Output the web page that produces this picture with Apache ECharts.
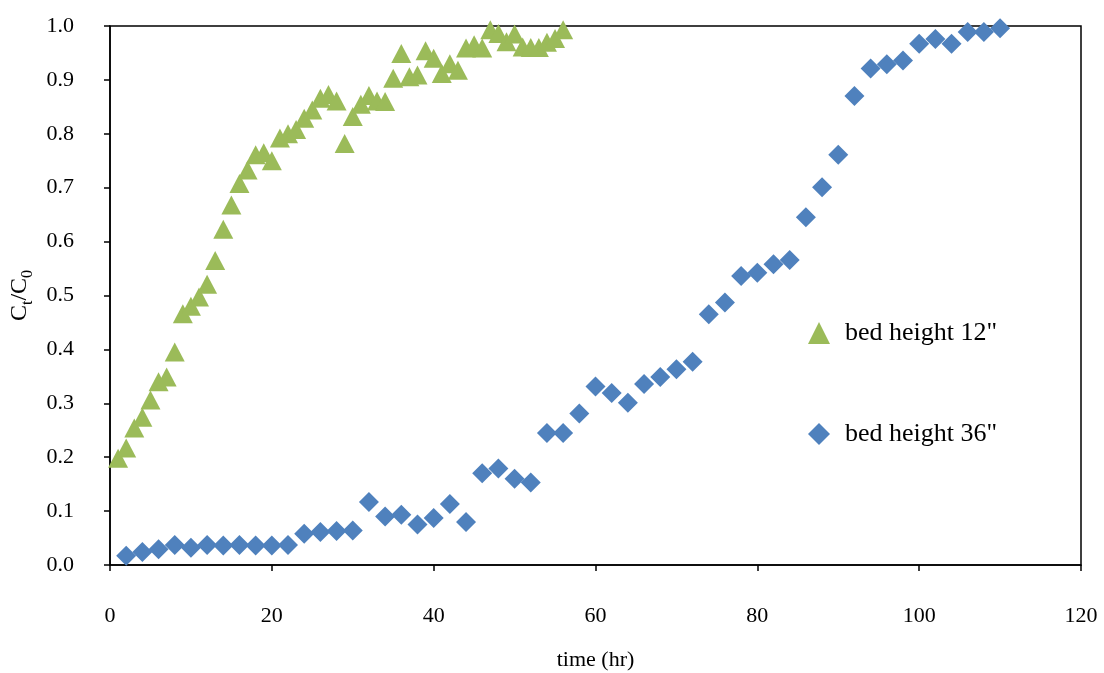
<!DOCTYPE html>
<html>
<head>
<meta charset="utf-8">
<script src="https://cdn.jsdelivr.net/npm/echarts@6/dist/echarts.min.js"></script>
<style>
  html, body { margin: 0; padding: 0; background: #fff; }
  #main { width: 1104px; height: 673px; }
</style>
</head>
<body>
<div id="main"></div>
<script>
// bed height 12"
var time12 = [1, 2, 3, 4, 5, 6, 7, 8, 9, 10, 11, 12, 13, 14, 15, 16, 17, 18, 19, 20,
  21, 22, 23, 24, 25, 26, 27, 28, 29, 30, 31, 32, 33, 34, 35, 36, 37, 38, 39, 40,
  41, 42, 43, 44, 45, 46, 47, 48, 49, 50, 51, 52, 53, 54, 55, 56];
var ratio12 = [0.198, 0.217, 0.254, 0.274, 0.306, 0.340, 0.349, 0.395, 0.466, 0.480,
  0.497, 0.521, 0.565, 0.623, 0.668, 0.708, 0.733, 0.761, 0.765, 0.750,
  0.792, 0.800, 0.808, 0.829, 0.844, 0.866, 0.873, 0.861, 0.782, 0.832,
  0.855, 0.871, 0.861, 0.860, 0.903, 0.949, 0.906, 0.909, 0.954, 0.940,
  0.912, 0.930, 0.918, 0.959, 0.965, 0.959, 0.993, 0.986, 0.971, 0.985,
  0.961, 0.960, 0.960, 0.970, 0.977, 0.993];

// bed height 36"
var time36 = [2, 4, 6, 8, 10, 12, 14, 16, 18, 20, 22, 24, 26, 28, 30, 32, 34, 36, 38, 40,
  42, 44, 46, 48, 50, 52, 54, 56, 58, 60, 62, 64, 66, 68, 70, 72, 74, 76, 78, 80,
  82, 84, 86, 88, 90, 92, 94, 96, 98, 100, 102, 104, 106, 108, 110];
var ratio36 = [0.017, 0.024, 0.029, 0.037, 0.032, 0.037, 0.036, 0.037, 0.036, 0.036,
  0.037, 0.058, 0.061, 0.063, 0.064, 0.117, 0.090, 0.093, 0.075, 0.087,
  0.113, 0.080, 0.170, 0.179, 0.160, 0.153, 0.245, 0.245, 0.281, 0.331,
  0.319, 0.301, 0.336, 0.349, 0.363, 0.377, 0.465, 0.487, 0.536, 0.542,
  0.558, 0.566, 0.645, 0.701, 0.761, 0.870, 0.921, 0.929, 0.936, 0.967,
  0.976, 0.967, 0.989, 0.989, 0.996];

var xTicks = { min: 0, max: 120, step: 20 };
var yTicks = { min: 0, max: 1, step: 0.1 };

function pairs(xs, ys) {
  return xs.map(function (x, i) { return [x, ys[i]]; });
}

var serif = '"Liberation Serif", "Times New Roman", serif';
var chart = echarts.init(document.getElementById('main'));

chart.setOption({
  backgroundColor: '#fff',
  animation: false,
  textStyle: { fontFamily: serif, color: '#000' },
  grid: {
    left: 110, right: 23, top: 26, bottom: 108,
    containLabel: false,
    outerBoundsMode: 'none',
    show: true, borderColor: '#000', borderWidth: 1.5
  },
  legend: {
    orient: 'vertical',
    left: 803, top: 315,
    itemGap: 75,
    itemWidth: 22, itemHeight: 22,
    textStyle: { fontFamily: serif, fontSize: 26, color: '#000', padding: [0, 0, 0, 10] },
    data: ['bed height 12"', 'bed height 36"']
  },
  xAxis: {
    type: 'value',
    min: xTicks.min, max: xTicks.max, interval: xTicks.step,
    name: 'time (hr)',
    nameLocation: 'middle',
    nameGap: 84,
    nameTextStyle: { fontFamily: serif, fontSize: 22, color: '#000' },
    axisLine: { onZero: false, lineStyle: { color: '#000', width: 1.5 } },
    axisTick: { show: true, length: 6, lineStyle: { color: '#000', width: 1.5 } },
    axisLabel: { margin: 40, fontSize: 22, color: '#000', fontFamily: serif },
    splitLine: { show: false }
  },
  yAxis: {
    type: 'value',
    min: yTicks.min, max: yTicks.max, interval: yTicks.step,
    name: '{c|C}{s|t}{c|/C}{s|0}',
    nameLocation: 'middle',
    nameGap: 67,
    nameRotate: 90,
    nameTextStyle: {
      fontFamily: serif, color: '#000',
      rich: {
        c: { fontFamily: serif, fontSize: 24, color: '#000', lineHeight: 32 },
        s: { fontFamily: serif, fontSize: 16, color: '#000', lineHeight: 32, padding: [15, 0, 0, 0] }
      }
    },
    axisLine: { show: true, onZero: false, lineStyle: { color: '#000', width: 1.5 } },
    axisTick: { show: true, length: 6, lineStyle: { color: '#000', width: 1.5 } },
    axisLabel: {
      margin: 36, fontSize: 22, color: '#000', fontFamily: serif,
      formatter: function (v) { return v.toFixed(1); }
    },
    splitLine: { show: false }
  },
  series: [
    {
      name: 'bed height 36"',
      type: 'scatter',
      symbol: 'diamond',
      symbolSize: 20,
      itemStyle: { color: '#4F81BD', opacity: 1 },
      data: pairs(time36, ratio36)
    },
    {
      name: 'bed height 12"',
      type: 'scatter',
      symbol: 'triangle',
      symbolSize: [20, 19],
      itemStyle: { color: '#9BBB59', opacity: 1 },
      data: pairs(time12, ratio12)
    }
  ]
});
</script>
</body>
</html>
